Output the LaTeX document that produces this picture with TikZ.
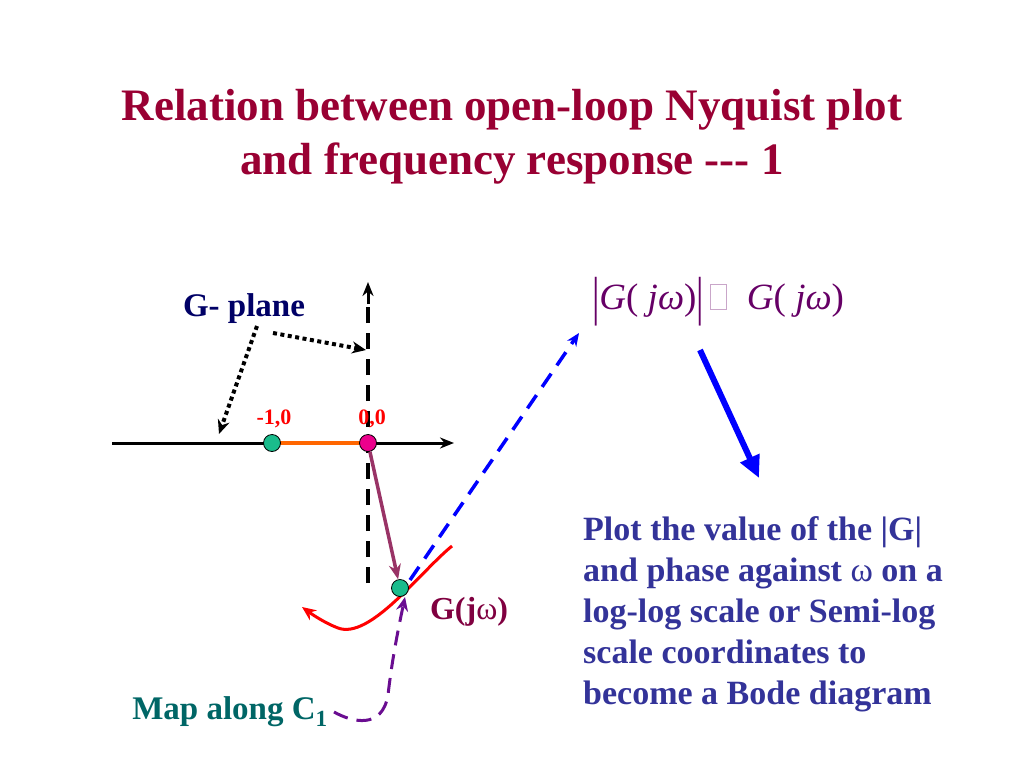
\documentclass[tikz,border=0pt]{standalone}
\usepackage{fontspec}
\setmainfont{Liberation Serif}
\usetikzlibrary{arrows.meta}
\definecolor{titlec}{HTML}{990033}
\definecolor{navyc}{HTML}{000066}
\definecolor{blockc}{HTML}{333399}
\definecolor{tealc}{HTML}{006666}
\definecolor{greenc}{HTML}{1ABC8C}
\definecolor{orangec}{HTML}{FF6600}
\definecolor{maroonc}{HTML}{993366}
\definecolor{purplec}{HTML}{6A0D91}
\definecolor{gjwc}{HTML}{800040}
\definecolor{formc}{HTML}{660066}
\tikzset{
  pt/.style={circle, draw=black, line width=0.8pt, minimum size=17pt, inner sep=0pt},
  axis/.style={line width=3pt, -{Stealth[length=14pt,width=11pt]}},
  dotarrow/.style={line width=4pt, dash pattern=on 4pt off 3.5pt, -{Stealth[length=14pt,width=12pt]}},
  lbl/.style={text=red, font=\fontsize{22}{24}\selectfont\bfseries}
}
\begin{document}
\begin{tikzpicture}[x=1pt,y=-1pt]
\useasboundingbox (0,0) rectangle (1024,768);
% title
\node[font=\fontsize{45}{54}\selectfont\bfseries, align=center, text=titlec] (title) at (512,137)
  {Relation between open-loop Nyquist plot\\and frequency response {-}{-}{-} 1};
% coordinates
\coordinate (xl) at (112,443);
\coordinate (xr) at (454,443);
\coordinate (yb) at (368,583);
\coordinate (yt) at (368,282);
% axes
\draw[axis] (xl) -- (xr);
\draw[line width=3.5pt, dash pattern=on 16pt off 10pt] (yb) -- (368,300);
\draw[line width=3pt, -{Stealth[length=14pt,width=11pt]}] (368,304) -- (yt);
\draw[orangec, line width=3.5pt] (272,443) -- (368,443);
\node[pt, fill=greenc] (m1) at (272,443) {};
\node[pt, fill=magenta] (o) at (368,443) {};
\node[lbl] (l1) at (274,419) {-1,0};
\node[lbl] (l0) at (372,419) {0,0};
% G- plane
\node[text=navyc, font=\fontsize{33}{36}\selectfont\bfseries] (gp) at (244,309) {G- plane};
\draw[dotarrow] (257,326) -- (219,434);
\draw[dotarrow] (273,333) -- (366,350);
% red curve
\draw[red, line width=3pt, -{Stealth[length=14pt,width=12pt]}] (452,546) .. controls (420,572) and (370,640) .. (338,628) .. controls (325,623) and (313,615) .. (302,607);
% blue dashed
\draw[blue, line width=3.5pt, dash pattern=on 16pt off 10pt, -{Stealth[length=13pt,width=11pt]}] (410,580) -- (579,333);
% G point
\node[pt, fill=greenc] (g) at (400,588) {};
\draw[maroonc, line width=3.5pt, -{Stealth[length=15pt,width=12pt]}] (o) -- (g);
% map along C1
\node[text=tealc, font=\fontsize{33}{36}\selectfont\bfseries] (mapc) at (230,712) {Map along C\textsubscript{1}};
\draw[purplec, line width=3pt, dash pattern=on 15pt off 9pt, -{Stealth[length=14pt,width=12pt]}] (334,712) .. controls (352,722) and (382,730) .. (388,695) .. controls (392,660) and (398,630) .. (405,597);
% G(jw)
\node[text=gjwc, font=\fontsize{32}{36}\selectfont\bfseries] (gjw) at (469,612) {G(j\textmd{ω})};
% formula
\node[text=formc, font=\fontsize{37}{40}\selectfont] (form) at (718,302)
  {\raisebox{-5pt}{\scalebox{1}[1.45]{|}}\textit{G}( \textit{jω})\raisebox{-5pt}{\scalebox{1}[1.45]{|}}\,\textcolor{formc!35}{\rule[0pt]{1.2pt}{26pt}\rule[0pt]{15pt}{1.2pt}\llap{\rule[25pt]{15pt}{1.2pt}}\rule[0pt]{1.2pt}{26pt}}\; \textit{G}( \textit{jω})};
% blue thick arrow
\coordinate (bs) at (700,350);
\coordinate (be) at (759,478);
\draw[blue, line width=6pt, -{Triangle[length=22pt,width=20pt]}] (bs) -- (be);
% text block
\node[anchor=north west, align=left, text=blockc, font=\fontsize{34}{41}\selectfont\bfseries, inner sep=0pt] (block) at (583,516)
  {Plot the value of the |G|\\and phase against \textmd{ω} on a\\log-log scale or Semi-log\\scale coordinates to\\become a Bode diagram};
\end{tikzpicture}
\end{document}
